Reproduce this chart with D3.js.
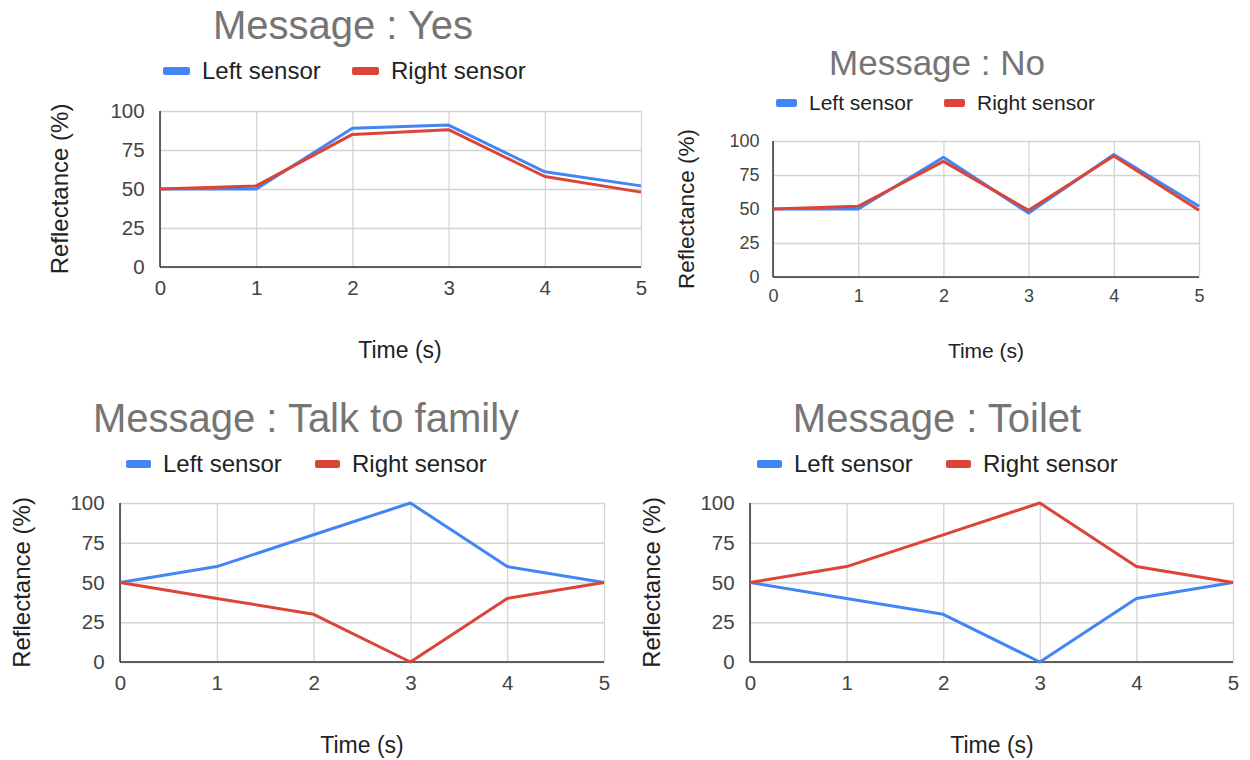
<!DOCTYPE html>
<html>
<head>
<meta charset="utf-8">
<script src="https://cdn.jsdelivr.net/npm/d3@7"></script>
<style>
  html, body { margin: 0; padding: 0; background: #fff; }
  svg { display: block; font-family: "Liberation Sans", Arial, sans-serif; }
</style>
</head>
<body>
<svg id="chart" width="1250" height="760"></svg>
<script>
// Time samples (s) and y-axis ticks shared by all panels
const times = [0, 1, 2, 3, 4, 5];
const yTicks = [0, 25, 50, 75, 100];
const seriesNames = ["Left sensor", "Right sensor"];

// Reflectance (%) per message
const yesLeft = [50, 50, 89, 91, 61, 52];
const yesRight = [50, 52, 85, 88, 58, 48];
const noLeft = [50, 50, 88, 47, 90, 52];
const noRight = [50, 52, 85, 49, 89, 49];
const familyLeft = [50, 60, 80, 100, 60, 50];
const familyRight = [50, 40, 30, 0, 40, 50];
const toiletLeft = [50, 40, 30, 0, 40, 50];
const toiletRight = [50, 60, 80, 100, 60, 50];

const titles = ["Message : Yes", "Message : No", "Message : Talk to family", "Message : Toilet"];

const colors = ["#4285F4", "#DB4437"];

// Panel geometry and type sizes
const panels = [
  { title: titles[0], left: yesLeft, right: yesRight,
    x0: 160, x1: 641, y0: 111, y1: 267, titleX: 343, titleY: 39, titleSize: 40,
    legendY: 71, legend: [163, 352], sw: 27, legendFont: 24, tickFont: 20.5, labelFont: 23, ylabFont: 24,
    ylabX: 60, xlabX: 400, xlabY: 358 },
  { title: titles[1], left: noLeft, right: noRight,
    x0: 773, x1: 1199, y0: 141, y1: 277, titleX: 937, titleY: 75, titleSize: 35,
    legendY: 103, legend: [776, 944], sw: 21, legendFont: 21, tickFont: 18, labelFont: 21, ylabFont: 22.5,
    ylabX: 686, xlabX: 986, xlabY: 358 },
  { title: titles[2], left: familyLeft, right: familyRight,
    x0: 120, x1: 604, y0: 503, y1: 662, titleX: 306, titleY: 432, titleSize: 40,
    legendY: 464, legend: [126, 315], sw: 25, legendFont: 24, tickFont: 20.5, labelFont: 23, ylabFont: 24,
    ylabX: 22, xlabX: 362, xlabY: 753 },
  { title: titles[3], left: toiletLeft, right: toiletRight,
    x0: 750, x1: 1233, y0: 503, y1: 662, titleX: 937, titleY: 432, titleSize: 40,
    legendY: 464, legend: [757, 946], sw: 25, legendFont: 24, tickFont: 20.5, labelFont: 23, ylabFont: 24,
    ylabX: 652, xlabX: 992, xlabY: 753 }
];

const svg = d3.select("#chart");
const fmt = d3.format("d");

panels.forEach(p => {
  const g = svg.append("g");
  const x = d3.scaleLinear().domain([0, 5]).range([p.x0, p.x1]);
  const y = d3.scaleLinear().domain([0, 100]).range([p.y1, p.y0]);

  // Title
  g.append("text")
    .attr("x", p.titleX).attr("y", p.titleY)
    .attr("text-anchor", "middle")
    .attr("font-size", p.titleSize)
    .attr("fill", "#757575")
    .text(p.title);

  // Legend
  seriesNames.forEach((name, i) => {
    const lx = p.legend[i];
    g.append("rect")
      .attr("x", lx).attr("y", p.legendY - 4)
      .attr("width", p.sw).attr("height", 8)
      .attr("rx", 2)
      .attr("fill", colors[i]);
    g.append("text")
      .attr("x", lx + p.sw + 12).attr("y", p.legendY)
      .attr("dy", "0.35em")
      .attr("font-size", p.legendFont)
      .attr("fill", "#222")
      .text(name);
  });

  // Gridlines
  g.append("g")
    .attr("transform", `translate(0,${p.y1})`)
    .call(d3.axisBottom(x).tickValues(times).tickSize(-(p.y1 - p.y0)).tickFormat(""))
    .call(s => s.select(".domain").remove())
    .call(s => s.selectAll("line").attr("stroke", "#d4d4d4").attr("stroke-width", 1.3));
  g.append("g")
    .attr("transform", `translate(${p.x0},0)`)
    .call(d3.axisLeft(y).tickValues(yTicks).tickSize(-(p.x1 - p.x0)).tickFormat(""))
    .call(s => s.select(".domain").remove())
    .call(s => s.selectAll("line").attr("stroke", "#d4d4d4").attr("stroke-width", 1.3));

  // Tick labels
  g.append("g")
    .attr("transform", `translate(0,${p.y1})`)
    .call(d3.axisBottom(x).tickValues(times).tickFormat(fmt).tickSize(0).tickPadding(p.tickFont * 0.45 + 4))
    .call(s => s.select(".domain").remove())
    .call(s => s.selectAll("text").attr("font-size", p.tickFont).attr("fill", "#444")
      .attr("font-family", "Liberation Sans, Arial, sans-serif"));
  g.append("g")
    .attr("transform", `translate(${p.x0},0)`)
    .call(d3.axisLeft(y).tickValues(yTicks).tickFormat(fmt).tickSize(0).tickPadding(p.tickFont * 0.75))
    .call(s => s.select(".domain").remove())
    .call(s => s.selectAll("text").attr("font-size", p.tickFont).attr("fill", "#444")
      .attr("font-family", "Liberation Sans, Arial, sans-serif"));

  // Axis lines
  g.append("line")
    .attr("x1", p.x0).attr("x2", p.x0).attr("y1", p.y0).attr("y2", p.y1)
    .attr("stroke", "#333").attr("stroke-width", 1.5);
  g.append("line")
    .attr("x1", p.x0).attr("x2", p.x1).attr("y1", p.y1).attr("y2", p.y1)
    .attr("stroke", "#333").attr("stroke-width", 1.5);

  // Series lines
  const line = d3.line().x((d, i) => x(times[i])).y(d => y(d));
  [p.left, p.right].forEach((vals, i) => {
    g.append("path")
      .datum(vals)
      .attr("d", line)
      .attr("fill", "none")
      .attr("stroke", colors[i])
      .attr("stroke-width", 3)
      .attr("stroke-linejoin", "round");
  });

  // Axis titles
  g.append("text")
    .attr("transform", `translate(${p.ylabX},${(p.y0 + p.y1) / 2}) rotate(-90)`)
    .attr("text-anchor", "middle")
    .attr("dy", "0.35em")
    .attr("font-size", p.ylabFont)
    .attr("fill", "#222")
    .text("Reflectance (%)");
  g.append("text")
    .attr("x", p.xlabX).attr("y", p.xlabY)
    .attr("text-anchor", "middle")
    .attr("font-size", p.labelFont)
    .attr("fill", "#222")
    .text("Time (s)");
});
</script>
</body>
</html>
